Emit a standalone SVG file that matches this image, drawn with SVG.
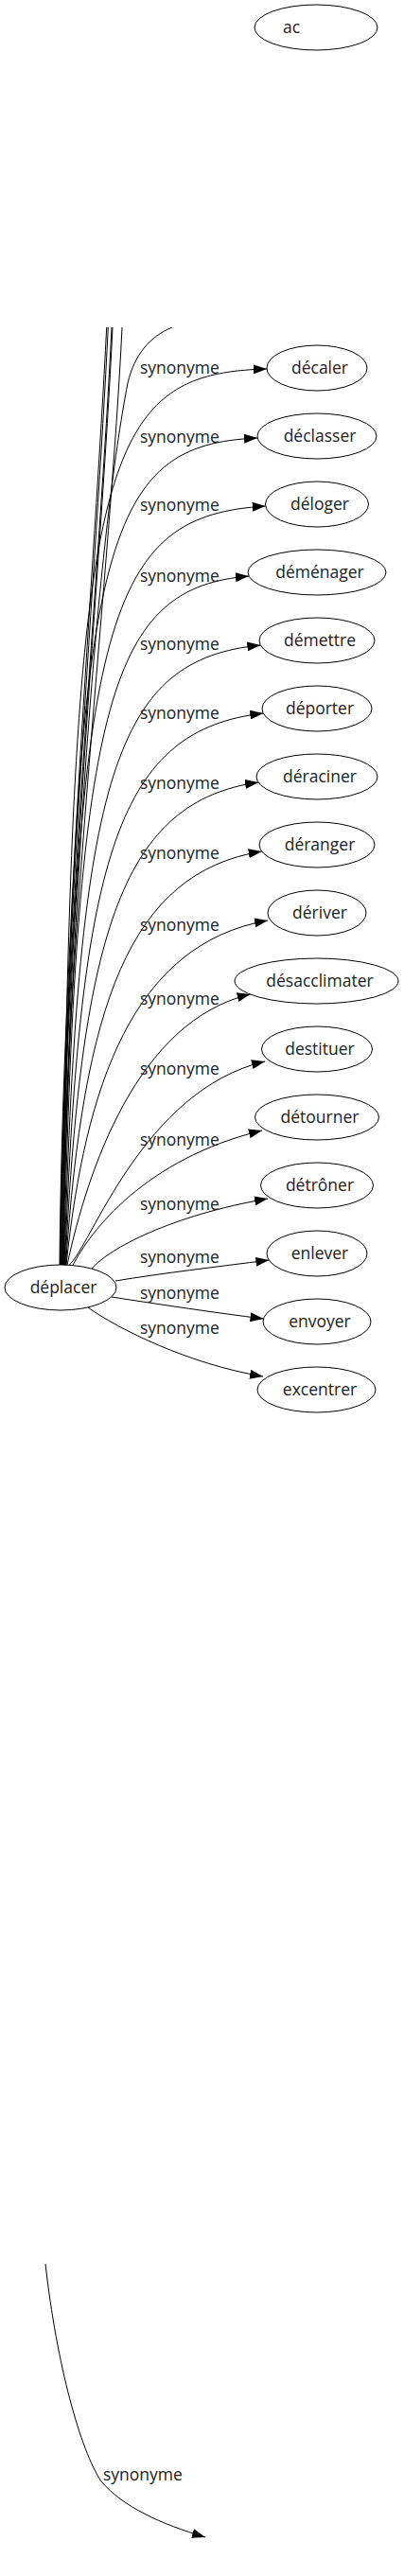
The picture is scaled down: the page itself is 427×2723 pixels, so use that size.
<svg xmlns="http://www.w3.org/2000/svg" width="427" height="2723" viewBox="0 0 427 2723">
<style>
.n ellipse{fill:#fff;stroke:#000;stroke-width:1}
.n text{font-family:"Open Sans","DejaVu Sans",sans-serif;font-size:17.5px;fill:#222;text-anchor:middle}
.e path{fill:none;stroke:#000;stroke-width:1}
.lbl{font-family:"Open Sans","DejaVu Sans",sans-serif;font-size:17.5px;fill:#222}
</style>
<defs>
<marker id="ah" markerWidth="14" markerHeight="10" refX="14" refY="5" orient="auto" markerUnits="userSpaceOnUse"><path d="M0,0 L14,5 L0,10 z" fill="#000"/></marker>
<clipPath id="top"><rect x="0" y="346" width="427" height="1100"/></clipPath>
</defs>
<rect width="427" height="2723" fill="#fff"/>
<g id="connectors" class="e">
<g clip-path="url(#top)">
<path d="M63,1337 C66,1000 100,600 112.7,346"/>
<path d="M63.5,1337 C67,1000 102,600 114.3,346"/>
<path d="M64,1337 C67,1000 106,600 118,346"/>
<path d="M64.5,1337 C68,1000 107,600 119,346"/>
<path d="M65,1337 C69,1000 117,600 129,346"/>
<path d="M65.5,1337 C78,900 105,560 135,405 C142,375 158,356 182,346"/>
</g>
<path marker-end="url(#ah)" d="M66,1337 C76,480 106,395 282,390"/>
<path marker-end="url(#ah)" d="M66.5,1337 C77.8,563.6 110.3,470.5 272,463"/>
<path marker-end="url(#ah)" d="M67,1337 C79.5,646.2 114.5,545 280.7,535"/>
<path marker-end="url(#ah)" d="M67.5,1337 C81.3,731 118.8,621.5 263,609"/>
<path marker-end="url(#ah)" d="M68,1337 C83,814.6 123,697 275.3,682"/>
<path marker-end="url(#ah)" d="M68.5,1337 C84.7,897 127.2,771.5 278.3,754"/>
<path marker-end="url(#ah)" d="M69,1337 C86.5,980.8 131.5,847 273,827"/>
<path marker-end="url(#ah)" d="M69.5,1337 C88.3,1064.4 135.8,922.5 276.7,900"/>
<path marker-end="url(#ah)" d="M70,1337 C90,1148 140,998 283,973"/>
<path marker-end="url(#ah)" d="M71,1337.2 C92.3,1237.4 145,1078.7 264.7,1051"/>
<path marker-end="url(#ah)" d="M73,1337.3 C95.6,1318.8 150.7,1152.1 280,1122"/>
<path marker-end="url(#ah)" d="M77,1337.6 C95,1302 153,1225 277,1195"/>
<path marker-end="url(#ah)" d="M97,1341 C115,1320 180,1285 283,1267"/>
<path marker-end="url(#ah)" d="M122,1354 C170,1346 230,1339 284.3,1332"/>
<path marker-end="url(#ah)" d="M118,1371 C170,1379 230,1388 278.5,1394"/>
<path marker-end="url(#ah)" d="M93,1382 C125,1405 200,1442 278,1455"/>
<path marker-end="url(#ah)" d="M48,2393 C60,2500 85,2590 107,2623 C130,2650 170,2668 217,2682"/>
<text class="lbl" x="148" y="395">synonyme</text>
<text class="lbl" x="148" y="468">synonyme</text>
<text class="lbl" x="148" y="540">synonyme</text>
<text class="lbl" x="148" y="615">synonyme</text>
<text class="lbl" x="148" y="687">synonyme</text>
<text class="lbl" x="148" y="760">synonyme</text>
<text class="lbl" x="148" y="834">synonyme</text>
<text class="lbl" x="148" y="908">synonyme</text>
<text class="lbl" x="148" y="984">synonyme</text>
<text class="lbl" x="148" y="1062">synonyme</text>
<text class="lbl" x="148" y="1136">synonyme</text>
<text class="lbl" x="148" y="1211">synonyme</text>
<text class="lbl" x="148" y="1279">synonyme</text>
<text class="lbl" x="148" y="1335">synonyme</text>
<text class="lbl" x="148" y="1373">synonyme</text>
<text class="lbl" x="148" y="1410">synonyme</text>
<text class="lbl" x="109" y="2622">synonyme</text>
</g>
<g id="n-ac" class="n"><ellipse cx="334" cy="29" rx="65" ry="24"/><text x="308" y="35">ac</text></g>
<g id="n-deplacer" class="n"><ellipse cx="64" cy="1361" rx="59" ry="24"/><text x="67" y="1367">déplacer</text></g>
<g id="n-decaler" class="n"><ellipse cx="335" cy="389" rx="53" ry="24"/><text x="338" y="395">décaler</text></g>
<g id="n-declasser" class="n"><ellipse cx="335" cy="461" rx="63" ry="24"/><text x="338" y="467">déclasser</text></g>
<g id="n-deloger" class="n"><ellipse cx="335" cy="533" rx="54.5" ry="24"/><text x="338" y="539">déloger</text></g>
<g id="n-demenager" class="n"><ellipse cx="335" cy="605" rx="73" ry="24"/><text x="338" y="611">déménager</text></g>
<g id="n-demettre" class="n"><ellipse cx="335" cy="677" rx="61" ry="24"/><text x="338" y="683">démettre</text></g>
<g id="n-deporter" class="n"><ellipse cx="335" cy="749" rx="58" ry="24"/><text x="338" y="755">déporter</text></g>
<g id="n-deraciner" class="n"><ellipse cx="335" cy="821" rx="64" ry="24"/><text x="338" y="827">déraciner</text></g>
<g id="n-deranger" class="n"><ellipse cx="335" cy="893" rx="61" ry="24"/><text x="338" y="899">déranger</text></g>
<g id="n-deriver" class="n"><ellipse cx="335" cy="965" rx="52" ry="24"/><text x="338" y="971">dériver</text></g>
<g id="n-desacclimater" class="n"><ellipse cx="334.5" cy="1037" rx="86.5" ry="24"/><text x="338" y="1043">désacclimater</text></g>
<g id="n-destituer" class="n"><ellipse cx="335" cy="1109" rx="58.5" ry="24"/><text x="338" y="1115">destituer</text></g>
<g id="n-detourner" class="n"><ellipse cx="335" cy="1181" rx="65.5" ry="24"/><text x="338" y="1187">détourner</text></g>
<g id="n-detroner" class="n"><ellipse cx="335" cy="1253" rx="59.5" ry="24"/><text x="338" y="1259">détrôner</text></g>
<g id="n-enlever" class="n"><ellipse cx="335" cy="1325" rx="53" ry="24"/><text x="338" y="1331">enlever</text></g>
<g id="n-envoyer" class="n"><ellipse cx="335" cy="1397" rx="57" ry="24"/><text x="338" y="1403">envoyer</text></g>
<g id="n-excentrer" class="n"><ellipse cx="334.5" cy="1469" rx="62.5" ry="24"/><text x="338" y="1475">excentrer</text></g>
</svg>
